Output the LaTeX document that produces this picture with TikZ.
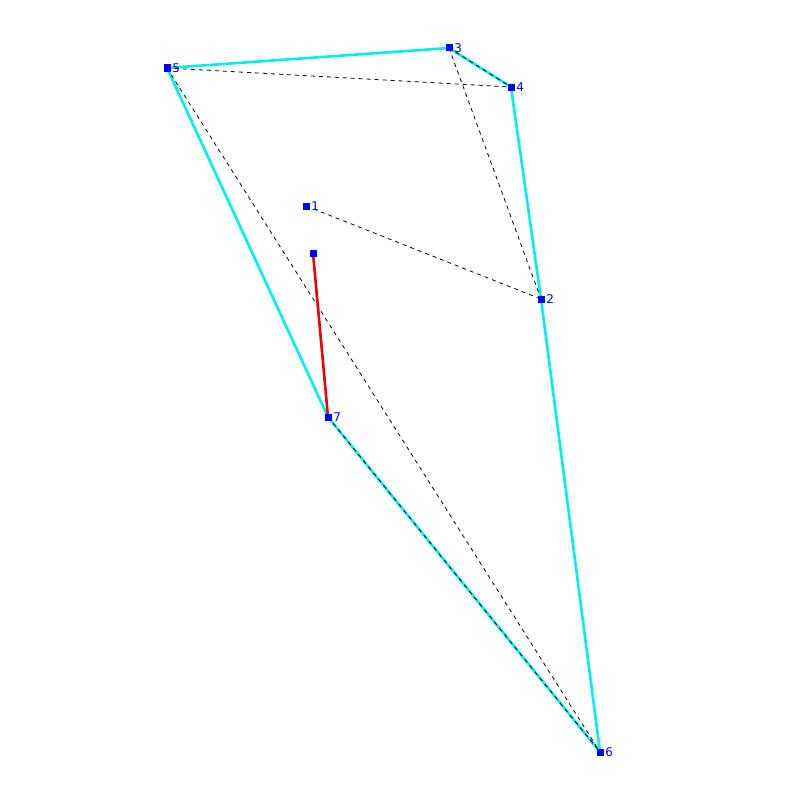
\documentclass[tikz,border=0pt]{standalone}
\usepackage{fontspec}
\setsansfont{DejaVu Sans}
\usetikzlibrary{positioning}
\definecolor{hullcyan}{RGB}{0,238,238}
\definecolor{ptblue}{RGB}{0,0,255}
\definecolor{edgered}{RGB}{238,0,0}
\tikzset{
  pt/.style={fill=ptblue, draw=none, minimum size=7pt, inner sep=0pt, rectangle},
  ptlabel/.style={font=\sffamily\fontsize{12pt}{12pt}\selectfont, text=ptblue, inner sep=0pt, right=1.5pt},
  hull/.style={hullcyan, line width=2.6pt},
  diag/.style={black, line width=0.8pt, dash pattern=on 4pt off 4pt}
}
\begin{document}
\begin{tikzpicture}[x=1pt, y=-1pt]
  \useasboundingbox (0,0) rectangle (800,800);
  % point positions
  \coordinate (c1) at (306,206);
  \coordinate (c2) at (541,299);
  \coordinate (c3) at (449,48);
  \coordinate (c4) at (511,87);
  \coordinate (c5) at (167,68);
  \coordinate (c6) at (600,752);
  \coordinate (c7) at (328,417);
  \coordinate (c8) at (313,253);
  % hull
  \draw[hull] (c5) -- (c3) -- (c4) -- (c2) -- (c6) -- (c7) -- cycle;
  % dashed edges
  \draw[diag] (c5) -- (c4);
  \draw[diag] (c3) -- (c4);
  \draw[diag] (c3) -- (c2);
  \draw[diag] (c1) -- (c2);
  \draw[diag] (c5) -- (c6);
  \draw[diag] (c7) -- (c6);
  % red edge
  \draw[edgered, line width=2.6pt] (c8) -- (c7);
  % points on top
  \foreach \i in {1,...,8}
    \node[pt] (p\i) at (c\i) {};
  % labels
  \foreach \i in {1,...,7}
    \node[ptlabel] (l\i) at (p\i.east) {\i};
\end{tikzpicture}
\end{document}
